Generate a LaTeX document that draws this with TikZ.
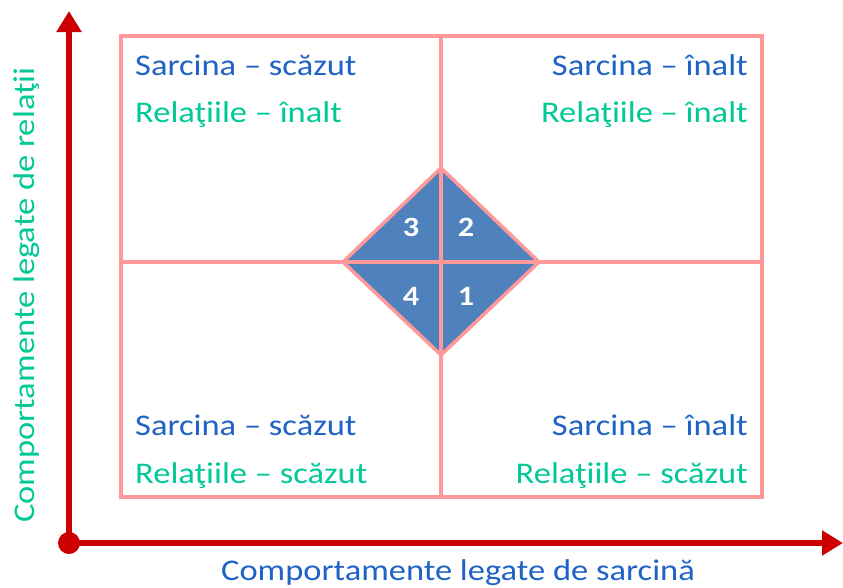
\documentclass[tikz,border=0pt]{standalone}
\usepackage{fontspec}
\setmainfont{Carlito}[FakeStretch=1.15]
\usetikzlibrary{arrows.meta}

\definecolor{axisred}{HTML}{CC0000}
\definecolor{gridpink}{HTML}{FF9999}
\definecolor{taskblue}{HTML}{1F63C6}
\definecolor{relgreen}{HTML}{00C896}
\definecolor{diamondblue}{HTML}{4F81BD}

\tikzset{
  axis/.style={draw=axisred, line width=5.5pt, -{Triangle[width=24pt,length=21pt]}},
  grid/.style={draw=gridpink, line width=3.5pt},
  task/.style={text=taskblue, font=\fontsize{30}{33}\selectfont, inner sep=0pt},
  rel/.style={text=relgreen, font=\fontsize{30}{33}\selectfont, inner sep=0pt},
  num/.style={text=white, font=\fontsize{28}{30}\selectfont\bfseries, inner sep=0pt}
}

\begin{document}
\begin{tikzpicture}[x=1pt, y=-1pt]
            \useasboundingbox (0,0) rectangle (843,587);
            % quadrant frame
            \coordinate (nw) at (121,36);
            \coordinate (se) at (762,497);
            \coordinate (c) at (441,262);
            \draw[grid] (nw) rectangle (se);
            \draw[grid] (441,36) -- (441,497);
            \draw[grid] (121,262) -- (762,262);
            % diamond
            \coordinate (dt) at (441,168);
            \coordinate (dr) at (539,262);
            \coordinate (db) at (441,355);
            \coordinate (dl) at (343,262);
            \filldraw[grid, fill=diamondblue] (dt) -- (dr) -- (db) -- (dl) -- cycle;
            \draw[grid] (dt) -- (db);
            \draw[grid] (dl) -- (dr);
            \node[num] (n3) at (411,227) {3};
            \node[num] (n2) at (466,227) {2};
            \node[num] (n4) at (411,296) {4};
            \node[num] (n1) at (466,296) {1};
            % axes
            \fill[axisred] (69,543) circle (11pt);
            \coordinate (o) at (69,543);
            \coordinate (ytip) at (69,11);
            \coordinate (xtip) at (843,543);
            \draw[axis] (o) -- (ytip);
            \draw[axis] (o) -- (xtip);
            \node[task, anchor=base] (xlab) at (458,580) {Comportamente legate de sarcină};
            \node[rel, rotate=90, anchor=base] (ylab) at (34,295) {Comportamente legate de relaţii};
            % labels
            \node[task, anchor=base west] (tl1) at (135,75) {Sarcina – scăzut};
            \node[rel, anchor=base west] (tl2) at (135,122) {Relaţiile – înalt};
            \node[task, anchor=base east] (tr1) at (748,75) {Sarcina – înalt};
            \node[rel, anchor=base east] (tr2) at (748,122) {Relaţiile – înalt};
            \node[task, anchor=base west] (bl1) at (135,435) {Sarcina – scăzut};
            \node[rel, anchor=base west] (bl2) at (135,483) {Relaţiile – scăzut};
            \node[task, anchor=base east] (br1) at (748,435) {Sarcina – înalt};
            \node[rel, anchor=base east] (br2) at (748,483) {Relaţiile – scăzut};
        \end{tikzpicture}
\end{document}
